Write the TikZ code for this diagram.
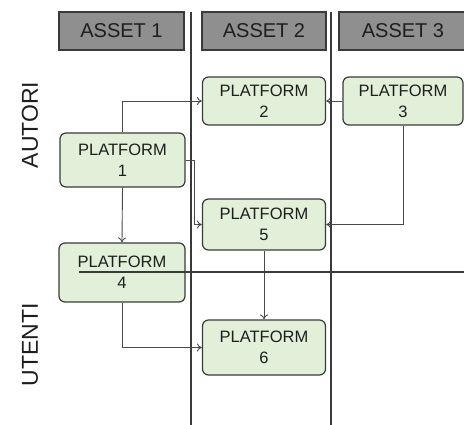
\documentclass[tikz,border=0pt]{standalone}
\usepackage{fontspec}
\setmainfont{Liberation Sans}
\usepackage{tikz}
\usetikzlibrary{arrows.meta}
\definecolor{pg}{HTML}{E2EFD9}
\definecolor{hg}{HTML}{8F8F8F}
\definecolor{ln}{HTML}{3A3A3A}
\definecolor{ar}{HTML}{4A4A4A}
\definecolor{tx}{HTML}{1E1E1E}
\newcommand{\asset}[4]{
\node (#1) at #2 [draw=ln,fill=hg,line width=1.2pt,minimum width=#3,minimum height=38pt,inner sep=0pt,text=tx,font=\fontsize{20}{24}\selectfont] {#4};
}
\tikzset{
plat/.style={draw=ln,fill=pg,rounded corners=6pt,line width=1.2pt,minimum width=123pt,minimum height=50pt,inner sep=0pt,align=center,text=tx,font=\fontsize{16.5}{21}\selectfont},
arr/.style={draw=ar,line width=0.9pt,-{To[length=5pt,width=8pt]}}
}

\begin{document}
\begin{tikzpicture}[x=1pt,y=-1pt]
\useasboundingbox (0,0) rectangle (464,425);
\asset{a1}{(121.5,31)}{125pt}{ASSET 1};
\asset{a2}{(264,31)}{124pt}{ASSET 2};
\asset{a3}{(403,31)}{128pt}{ASSET 3};
\draw[ln,line width=1.4pt] (191,12) -- (191,425);
\draw[ln,line width=1.4pt] (331,12) -- (331,425);
\node (aut) at (30,125) [rotate=90,text=tx,font=\fontsize{23}{26}\selectfont] {AUTORI};
\node (ute) at (30,345) [rotate=90,text=tx,font=\fontsize{23}{26}\selectfont] {UTENTI};
\node (p1) at (122.5,160) [plat,minimum width=125pt,minimum height=54pt] {PLATFORM\\1};
\node (p2) at (264,101) [plat,minimum height=48pt] {PLATFORM\\2};
\node (p3) at (403,101) [plat,minimum width=120pt,minimum height=48pt] {PLATFORM\\3};
\node (p5) at (264,224.5) [plat,minimum height=51pt] {PLATFORM\\5};
\node (p4) at (122,272.5) [plat,minimum width=126pt,minimum height=59pt] {PLATFORM\\4};
\node (p6) at (264,347.5) [plat,minimum height=55pt] {PLATFORM\\6};
\draw[arr] (p1.north) |- (p2.west);
\draw[arr] (p3.west) -- (p2.east);
\draw[arr] (p3.south) |- (p5.east);
\draw[arr] (p1.east) -- ++(9,0) |- (p5.west);
\draw[arr] (p1.south) -- (p4.north);
\draw[arr] (p5.south) -- (p6.north);
\draw[arr] (p4.south) |- (p6.west);
\draw[ln,line width=1.2pt] (79,272) -- (464,272);
\end{tikzpicture}
\end{document}
